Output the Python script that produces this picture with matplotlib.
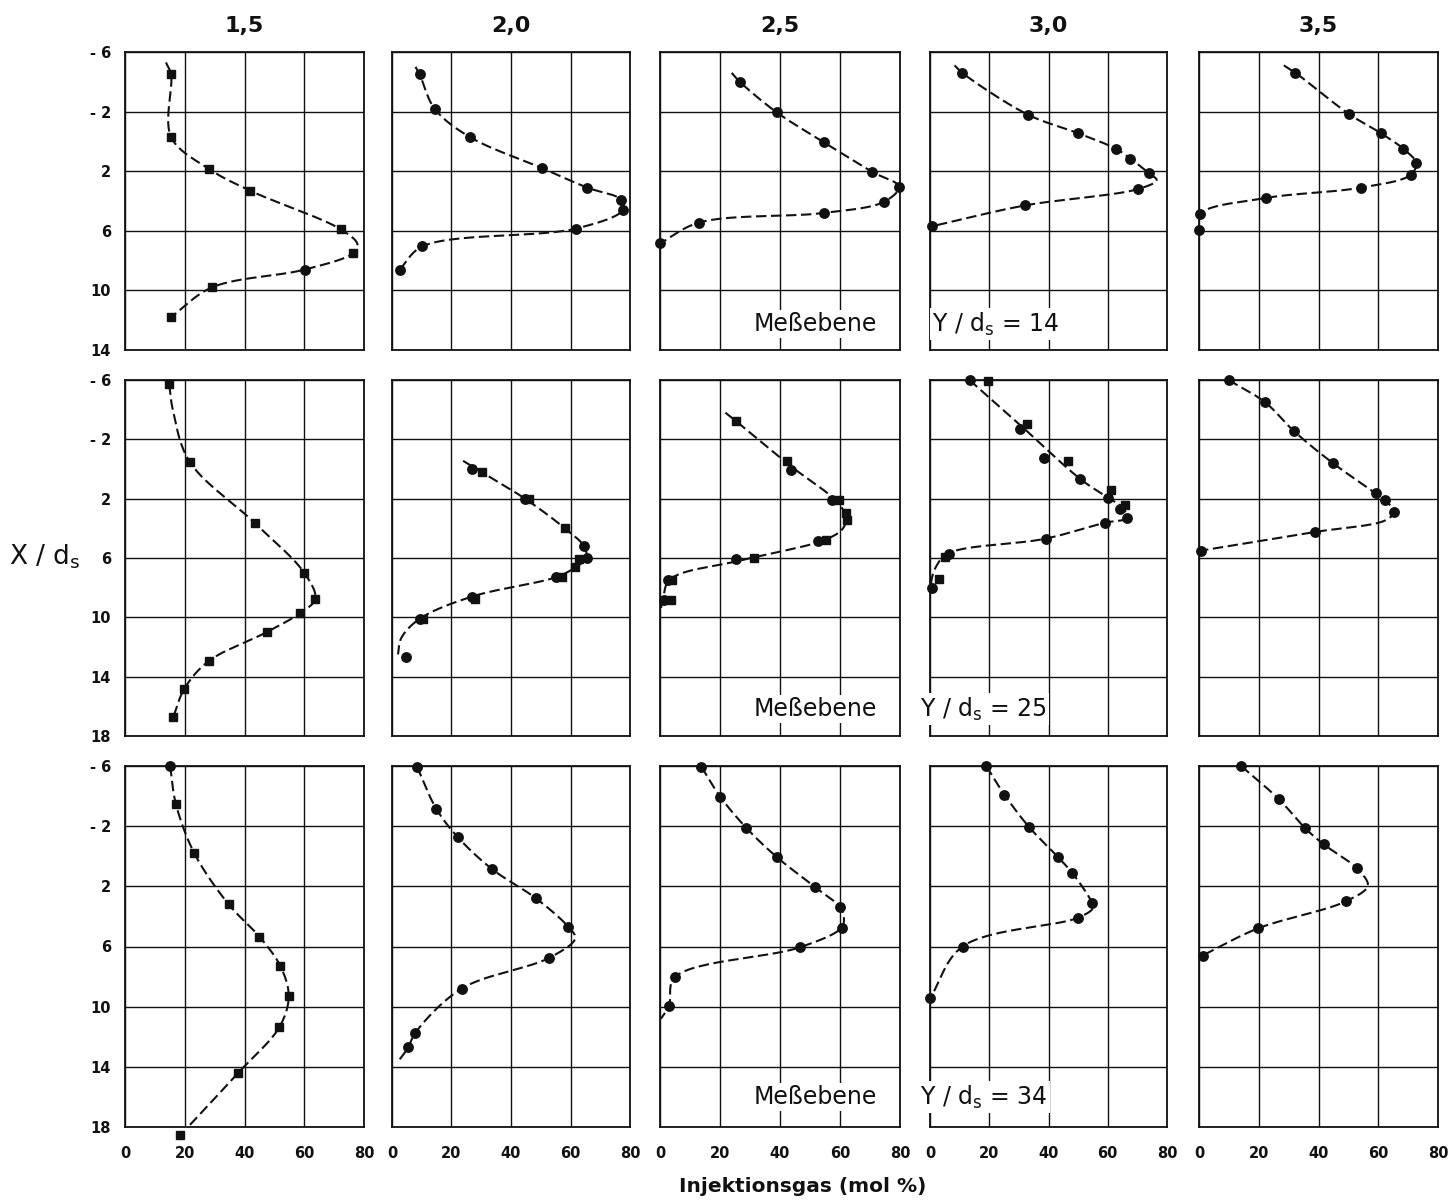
import numpy as np
import matplotlib
matplotlib.use("Agg")
import matplotlib.pyplot as plt

# ---------------------------------------------------------------------------
# Injection gas concentration profiles (mol %) over X/d_s
# columns: velocity ratio, rows: measuring plane Y/d_s
# ---------------------------------------------------------------------------
ratios = ["1,5", "2,0", "2,5", "3,0", "3,5"]
planes = [14, 25, 34]
conc_ticks = [0, 20, 40, 60, 80]
pos_ticks_14 = [-6, -2, 2, 6, 10, 14]
pos_ticks_25 = [-6, -2, 2, 6, 10, 14, 18]
pos_ticks_34 = [-6, -2, 2, 6, 10, 14, 18]

# marker codes: "s" = square, "o" = circle
# --- plane Y/d_s = 14 ---
c14_15 = [15.4, 15.4, 28.1, 41.8, 72.2, 76.3, 60.2, 29.1, 15.4]
x14_15 = [-4.5, -0.3, 1.85, 3.3, 5.9, 7.5, 8.6, 9.8, 11.8]
m14_15 = "ssssssoss"

c14_20 = [9.3, 14.3, 26.1, 50.5, 65.6, 76.9, 77.6, 61.9, 10.2, 2.6]
x14_20 = [-4.5, -2.2, -0.3, 1.8, 3.1, 3.9, 4.6, 5.85, 7.05, 8.6]
m14_20 = "oooooooooo"

c14_25 = [26.6, 38.9, 54.6, 70.8, 79.7, 74.7, 54.8, 13.0, 0.0]
x14_25 = [-4.0, -1.95, 0.05, 2.05, 3.05, 4.05, 4.8, 5.45, 6.85]
m14_25 = "ooooooooo"

c14_30 = [10.9, 33.0, 50.0, 62.8, 67.6, 74.0, 70.2, 32.0, 0.6]
x14_30 = [-4.6, -1.8, -0.55, 0.5, 1.15, 2.15, 3.2, 4.3, 5.7]
m14_30 = "ooooooooo"

c14_35 = [32.3, 50.1, 60.9, 68.4, 72.7, 70.8, 54.3, 22.3, 0.5, 0.0]
x14_35 = [-4.6, -1.85, -0.55, 0.5, 1.45, 2.25, 3.1, 3.8, 4.85, 5.95]
m14_35 = "oooooooooo"

# --- plane Y/d_s = 25 ---
c25_15 = [14.8, 21.6, 43.5, 60.0, 63.7, 58.7, 47.4, 28.0, 19.9, 16.2]
x25_15 = [-5.7, -0.5, 3.65, 7.0, 8.75, 9.7, 11.0, 12.95, 14.8, 16.7]
m25_15 = "ssssssssss"

c25_20 = [26.9, 30.1, 44.7, 46.0, 58.1, 64.5, 65.7, 63.0, 61.5, 55.0,
          57.0, 26.9, 27.8, 9.3, 10.5, 4.8]
x25_20 = [0.0, 0.2, 2.0, 2.05, 4.0, 5.2, 6.0, 6.1, 6.6, 7.3,
          7.3, 8.6, 8.75, 10.1, 10.1, 12.7]
m25_20 = "osossoossosososo"

c25_25 = [25.2, 42.4, 43.8, 57.2, 59.6, 62.0, 62.2, 55.3, 52.7, 31.2,
          25.4, 2.5, 4.0, 1.2, 3.5]
x25_25 = [-3.25, -0.55, 0.08, 2.07, 2.1, 3.0, 3.45, 4.76, 4.83, 6.0,
          6.1, 7.45, 7.45, 8.8, 8.8]
m25_25 = "ssoossssosoosos"

c25_30 = [13.4, 19.7, 32.9, 30.4, 38.6, 46.6, 50.6, 61.2, 60.0, 65.8,
          64.2, 66.4, 59.1, 39.0, 6.5, 5.0, 2.9, 0.8]
x25_30 = [-6.0, -5.93, -3.0, -2.7, -0.73, -0.52, 0.67, 1.4, 1.95, 2.46,
          2.68, 3.3, 3.65, 4.72, 5.7, 5.9, 7.4, 8.0]
m25_30 = "ossoosososooooosso"

c25_35 = [9.9, 22.1, 31.8, 44.8, 59.2, 62.3, 65.2, 38.7, 0.7]
x25_35 = [-6.0, -4.5, -2.55, -0.4, 1.65, 2.1, 2.9, 4.25, 5.5]
m25_35 = "ooooooooo"

# --- plane Y/d_s = 34 ---
c34_15 = [15.1, 17.0, 23.2, 34.7, 45.0, 52.0, 54.8, 51.7, 37.9, 18.5]
x34_15 = [-6.0, -3.5, -0.2, 3.2, 5.35, 7.3, 9.3, 11.35, 14.4, 18.55]
m34_15 = "osssssssss"

c34_20 = [8.4, 14.9, 22.2, 33.6, 48.4, 59.3, 52.9, 23.4, 7.8, 5.5]
x34_20 = [-5.95, -3.15, -1.25, 0.85, 2.8, 4.7, 6.75, 8.8, 11.75, 12.7]
m34_20 = "oooooooooo"

c34_25 = [13.8, 20.1, 28.7, 38.9, 51.7, 60.1, 60.5, 46.7, 4.9, 3.0]
x34_25 = [-5.95, -3.95, -1.9, 0.05, 2.05, 3.4, 4.75, 6.05, 8.05, 9.95]
m34_25 = "oooooooooo"

c34_30 = [19.0, 25.1, 33.4, 43.2, 48.0, 54.7, 49.8, 11.0, 0.0]
x34_30 = [-6.0, -4.1, -1.95, 0.05, 1.1, 3.1, 4.1, 6.0, 9.45]
m34_30 = "ooooooooo"

c34_35 = [14.1, 26.7, 35.6, 41.7, 52.8, 49.1, 19.7, 1.2]
x34_35 = [-6.0, -3.8, -1.85, -0.8, 0.8, 3.0, 4.8, 6.6]
m34_35 = "oooooooo"

# extra guide points of the hand-drawn fit curves (start, end, bends)
curve_extra = {
    (14, "1,5"): [(13.7, -5.3), (77.8, 6.9)],
    (14, "2,0"): [(7.9, -5.0)],
    (14, "2,5"): [(23.9, -4.6)],
    (14, "3,0"): [(8.3, -5.1), (76.5, 2.6)],
    (14, "3,5"): [(28.4, -5.1)],
    (25, "1,5"): [(16.0, -4.0)],
    (25, "3,5"): [(62.5, 3.45)],
    (34, "2,0"): [(61.6, 5.45), (2.6, 13.5)],
    (34, "2,5"): [(61.3, 4.05), (0.3, 10.8)],
    (34, "3,0"): [(55.0, 3.45)],
    (34, "3,5"): [(56.5, 1.95)],
}

# fit curves drawn between the two scattered measurement series
fc25_20 = [23.9, 30.1, 44.7, 58.1, 64.5, 65.3, 61.5, 55.0, 26.9, 9.3, 3.1, 2.0]
fx25_20 = [-0.55, 0.2, 2.0, 4.0, 5.2, 6.0, 6.65, 7.3, 8.6, 10.1, 11.4, 12.5]
fc25_25 = [21.8, 25.2, 43.2, 58.4, 62.0, 61.0, 55.3, 28.3, 3.3, 1.0, 0.0]
fx25_25 = [-3.8, -3.25, -0.25, 2.1, 3.2, 4.0, 4.75, 6.1, 7.45, 8.8, 9.7]
fc25_30 = [13.3, 30.8, 50.7, 60.2, 65.0, 66.3, 59.1, 38.9, 6.0, 2.0, 0.5, 0.3]
fx25_30 = [-6.0, -2.9, 0.67, 1.95, 2.6, 3.3, 3.62, 4.7, 5.7, 6.6, 7.5, 8.3]

panels = {
    (14, "1,5"): (c14_15, x14_15, m14_15), (14, "2,0"): (c14_20, x14_20, m14_20),
    (14, "2,5"): (c14_25, x14_25, m14_25), (14, "3,0"): (c14_30, x14_30, m14_30),
    (14, "3,5"): (c14_35, x14_35, m14_35),
    (25, "1,5"): (c25_15, x25_15, m25_15), (25, "2,0"): (c25_20, x25_20, m25_20),
    (25, "2,5"): (c25_25, x25_25, m25_25), (25, "3,0"): (c25_30, x25_30, m25_30),
    (25, "3,5"): (c25_35, x25_35, m25_35),
    (34, "1,5"): (c34_15, x34_15, m34_15), (34, "2,0"): (c34_20, x34_20, m34_20),
    (34, "2,5"): (c34_25, x34_25, m34_25), (34, "3,0"): (c34_30, x34_30, m34_30),
    (34, "3,5"): (c34_35, x34_35, m34_35),
}
fits = {
    (25, "2,0"): (fc25_20, fx25_20),
    (25, "2,5"): (fc25_25, fx25_25),
    (25, "3,0"): (fc25_30, fx25_30),
}
pos_ticks = {14: pos_ticks_14, 25: pos_ticks_25, 34: pos_ticks_34}


def smooth_curve(cs, xs, n=30, sx=3.0, sy=15.0):
    """Centripetal Catmull-Rom path through the knots (in screen-like units)."""
    P = np.column_stack([np.asarray(cs, float) * sx, np.asarray(xs, float) * sy])
    P = np.vstack([2 * P[0] - P[1], P, 2 * P[-1] - P[-2]])
    out = []
    for i in range(1, len(P) - 2):
        p0, p1, p2, p3 = P[i - 1], P[i], P[i + 1], P[i + 2]
        t0 = 0.0
        t1 = t0 + max(np.linalg.norm(p1 - p0), 1e-6) ** 0.5
        t2 = t1 + max(np.linalg.norm(p2 - p1), 1e-6) ** 0.5
        t3 = t2 + max(np.linalg.norm(p3 - p2), 1e-6) ** 0.5
        t = np.linspace(t1, t2, n, endpoint=False)[:, None]
        a1 = (t1 - t) / (t1 - t0) * p0 + (t - t0) / (t1 - t0) * p1
        a2 = (t2 - t) / (t2 - t1) * p1 + (t - t1) / (t2 - t1) * p2
        a3 = (t3 - t) / (t3 - t2) * p2 + (t - t2) / (t3 - t2) * p3
        b1 = (t2 - t) / (t2 - t0) * a1 + (t - t0) / (t2 - t0) * a2
        b2 = (t3 - t) / (t3 - t1) * a2 + (t - t1) / (t3 - t1) * a3
        out.append((t2 - t) / (t2 - t1) * b1 + (t - t1) / (t2 - t1) * b2)
    out.append(P[-2][None, :])
    C = np.vstack(out)
    return C[:, 0] / sx, C[:, 1] / sy


# ---------------------------------------------------------------------------
W, H = 1450, 1202
ink = "#111111"
fig = plt.figure(figsize=(W / 100, H / 100), dpi=100)
fig.patch.set_facecolor("white")

col_l = [125, 392, 660, 930, 1199]
col_r = [364, 630, 900, 1167, 1438]
row_t = [52, 380, 766]
row_b = [350, 736, 1127]


def rect(l, r, t, b):
    return [l / W, 1 - b / H, (r - l) / W, (b - t) / H]


for i, plane in enumerate(planes):
    for j, ratio in enumerate(ratios):
        ax = fig.add_axes(rect(col_l[j], col_r[j], row_t[i], row_b[i]))
        ticks = pos_ticks[plane]
        ax.set_xlim(conc_ticks[0], conc_ticks[-1])
        ax.set_ylim(ticks[-1], ticks[0])
        ax.set_xticks(conc_ticks)
        ax.set_yticks(ticks)
        ax.grid(True, color=ink, lw=1.0)
        ax.set_axisbelow(True)
        for sp in ax.spines.values():
            sp.set_linewidth(1.3)
            sp.set_color(ink)
        ax.tick_params(length=0, colors=ink)
        if j == 0:
            ax.set_yticklabels([("- %d" % -t) if t < 0 else str(t) for t in ticks],
                               fontsize=10.5, fontweight="bold")
            ax.tick_params(axis="y", pad=10)
        else:
            ax.tick_params(labelleft=False)
        if i == len(planes) - 1:
            ax.set_xticklabels([str(t) for t in conc_ticks],
                               fontsize=10.5, fontweight="bold")
            ax.tick_params(axis="x", pad=14)
        else:
            ax.tick_params(labelbottom=False)

        cs, xs, ms = panels[(plane, ratio)]
        cs = np.asarray(cs, float)
        xs = np.asarray(xs, float)
        codes = np.array(list(ms))

        # dashed fit curve
        if (plane, ratio) in fits:
            kc, kx = fits[(plane, ratio)]
        else:
            knots = list(zip(cs, xs)) + curve_extra.get((plane, ratio), [])
            knots.sort(key=lambda p: p[1])
            kc = [p[0] for p in knots]
            kx = [p[1] for p in knots]
        cc, cx = smooth_curve(kc, kx)
        ax.plot(cc, cx, color=ink, lw=1.5, ls=(0, (5, 2.2)), zorder=3)

        # measurement points
        for code, mk, size in (("s", "s", 6.4), ("o", "o", 6.8)):
            sel = codes == code
            if sel.any():
                ax.plot(cs[sel], xs[sel], ls="none", marker=mk, ms=size,
                        color=ink, mec=ink, clip_on=False, zorder=4)

# column titles
for j, ratio in enumerate(ratios):
    fig.text((col_l[j] + col_r[j]) / 2 / W, 1 - 26 / H, ratio, ha="center",
             va="center", fontsize=16, fontweight="bold", color=ink)

# measuring plane labels
box = dict(facecolor="white", edgecolor="none", pad=1.5)
plane_label_y = [324, 709, 1097]
plane_label_x = [932, 920, 920]
for plane, yy, xx in zip(planes, plane_label_y, plane_label_x):
    fig.text(815 / W, 1 - yy / H, "Meßebene", ha="center", va="center",
             fontsize=17, color=ink, bbox=box, zorder=5)
    fig.text(xx / W, 1 - yy / H, "Y / d$_\\mathrm{s}$ = %d" % plane, ha="left",
             va="center", fontsize=17, color=ink, bbox=box, zorder=5)

# axis titles
fig.text(45 / W, 1 - 557 / H, "X / d$_\\mathrm{s}$", ha="center", va="center",
         fontsize=19, color=ink)
fig.text(803 / W, 1 - 1187 / H, "Injektionsgas (mol %)", ha="center",
         va="center", fontsize=14.5, fontweight="bold", color=ink)

fig.savefig("out.png", dpi=100, facecolor="white")
